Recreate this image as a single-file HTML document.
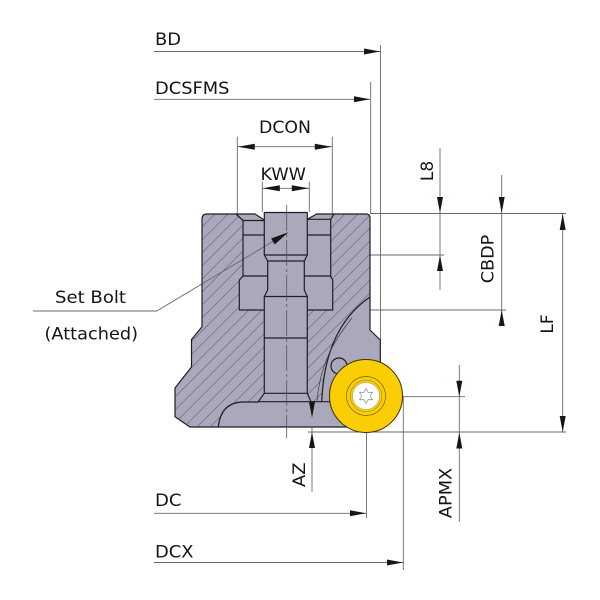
<!DOCTYPE html>
<html><head><meta charset="utf-8"><style>
html,body{margin:0;padding:0;background:#fff;}
svg{display:block;}
text{font-family:"DejaVu Sans","Liberation Sans",sans-serif;fill:#151515;}
</style></head><body>
<svg width="600" height="600" viewBox="0 0 600 600" xmlns="http://www.w3.org/2000/svg">
<defs>
<pattern id="h" patternUnits="userSpaceOnUse" width="13" height="13">
<path d="M0,13 L13,0 M-3,3 L3,-3 M10,16 L16,10" stroke="#5e5c70" stroke-width="0.6" fill="none"/>
</pattern>
</defs>
<rect width="600" height="600" fill="#fff"/>

<!-- dimension / extension lines -->
<g stroke="#6a6a6a" stroke-width="0.9" fill="none">
<line x1="154" y1="51.5" x2="380" y2="51.5"/>
<line x1="380.5" y1="45" x2="380.5" y2="340"/>
<line x1="154" y1="99.3" x2="370" y2="99.3"/>
<line x1="370.7" y1="82" x2="370.7" y2="214"/>
<line x1="237.3" y1="146.7" x2="332.3" y2="146.7"/>
<line x1="237.3" y1="136.7" x2="237.3" y2="214"/>
<line x1="332.3" y1="136.7" x2="332.3" y2="214"/>
<line x1="262.3" y1="188.3" x2="309.3" y2="188.3"/>
<line x1="262.3" y1="181.7" x2="262.3" y2="212"/>
<line x1="309.3" y1="181.7" x2="309.3" y2="212"/>
<line x1="440" y1="148" x2="440" y2="290"/>
<line x1="307" y1="255" x2="444" y2="255"/>
<line x1="501.7" y1="175" x2="501.7" y2="326"/>
<line x1="332.7" y1="310" x2="506" y2="310"/>
<line x1="370" y1="213.5" x2="566" y2="213.5"/>
<line x1="562.7" y1="213.5" x2="562.7" y2="432"/>
<line x1="308" y1="432" x2="566" y2="432"/>
<line x1="459.3" y1="365" x2="459.3" y2="521.7"/>
<line x1="403" y1="396.7" x2="465" y2="396.7"/>
<line x1="312" y1="390" x2="312" y2="491.7"/>
<line x1="309" y1="417.7" x2="338" y2="417.7"/>
<line x1="154" y1="513.3" x2="366" y2="513.3"/>
<line x1="366.5" y1="430" x2="366.5" y2="518"/>
<line x1="154" y1="562.5" x2="403" y2="562.5"/>
<line x1="403.3" y1="396" x2="403.3" y2="570"/>
</g>

<!-- body silhouette -->
<path d="M202,219 Q202,214 207,214 L255,214 L264.3,220 L264.3,212.5 L307.3,212.5 L307.3,219.3 L316.7,214 L366,214 Q370,214 370,218 L370,330 L380.3,340 L380.3,427 L190,427 L175,416.7 L175,388 L191.5,367 L191.5,339.5 L202,326.7 Z" fill="#aaa8ba" stroke="none"/>

<!-- hatched regions -->
<path d="M202,219 Q202,214 207,214 L236,214 L243,220.5 L243,276 L239.3,280 L239.3,310 L264.3,310 L264.3,393.3 L258,402 L242,402 C229,402.7 220,410 218.3,427 L190,427 L175,416.7 L175,388 L191.5,367 L191.5,339.5 L202,326.7 Z" fill="url(#h)"/>
<path d="M330.7,219.3 L334,214 L366,214 Q370,214 370,218 L370,297 C345,314 324,345 321.7,401.7 L311,401.7 L307.3,393.3 L307.3,310 L332.7,310 L332.7,280 L330.7,276.7 Z" fill="url(#h)"/>

<!-- leader -->
<polyline points="33,311 156.7,311 285,234.3" stroke="#6a6a6a" stroke-width="0.9" fill="none"/>

<!-- outlines -->
<g stroke="#1e1e24" stroke-width="1.2" fill="none" stroke-linejoin="round">
<path d="M202,326.7 L202,219 Q202,214 207,214 L255,214 L264.3,220 L264.3,212.5 L307.3,212.5 L307.3,219.3 L316.7,214 L366,214 Q370,214 370,218 L370,330 L380.3,340 L380.3,370"/>
<path d="M350,427 L190,427 L175,416.7 L175,388 L191.5,367 L191.5,339.5 L202,326.7"/>
<path d="M236,214 L243,220.5 L264.3,220.5"/>
<path d="M243,220.5 L243,276 L239.3,280 L239.3,310 L264.3,310"/>
<path d="M243,235 L264.3,235 M243,276 L267.7,276"/>
<path d="M264.3,220 L264.3,255 L267.7,261 L267.7,290 L264.3,296.5 L264.3,393.3 L258,402 L242,402 C229,402.7 220,410 218.3,427"/>
<path d="M307.3,219.3 L307.3,255 L304.3,261 L304.3,290 L307.3,296.5 L307.3,393.3 L311,401.7"/>
<path d="M264.3,255 L307.3,255 M267.7,261 L304.3,261 M264.3,296.5 L307.3,296.5 M264.3,338 L307.3,338 M264.3,393.3 L307.3,393.3 M258,401.7 L335,401.7"/>
<path d="M307.3,219.3 L330.7,219.3 L330.7,276.7 L332.7,280 L332.7,310 L307.3,310 M307.3,235 L330.7,235 M304.3,276 L330.7,276 M330.7,219.3 L334,214"/>
<path d="M370,297 C345,314 324,345 321.7,401.7"/>
<circle cx="339" cy="366" r="8" fill="#aaa8ba"/>
</g>
<path d="M352,318 C336,338 320,362 317,401.7" stroke="#3a3a44" stroke-width="0.7" fill="none"/>

<!-- center line -->
<line x1="286.7" y1="205" x2="286.7" y2="438" stroke="#555" stroke-width="0.8" stroke-dasharray="26 3 3 3"/>

<!-- insert -->
<circle cx="366" cy="396" r="36.5" fill="#fbcd05" stroke="#3a3000" stroke-width="1"/>
<circle cx="366" cy="396" r="19.5" fill="none" stroke="#6e6010" stroke-width="0.7"/>
<circle cx="366" cy="396" r="15.8" fill="none" stroke="#9a8a40" stroke-width="0.6"/>
<circle cx="366" cy="396" r="13.5" fill="#fff" stroke="#b0a270" stroke-width="0.6"/>
<polygon points="366,388.5 368.1,392.36 372.5,392.25 370.2,396 372.5,399.75 368.1,399.64 366,403.5 363.9,399.64 359.5,399.75 361.8,396 359.5,392.25 363.9,392.36" fill="#fff" stroke="#888" stroke-width="0.7" stroke-linejoin="round"/>

<!-- arrowheads -->
<g fill="#1a1414">
<polygon points="380,51.5 364,48.5 364,54.5"/>
<polygon points="370,99.3 354,96.3 354,102.3"/>
<polygon points="237.8,146.7 254.8,143.7 254.8,149.7"/>
<polygon points="331.8,146.7 314.8,143.7 314.8,149.7"/>
<polygon points="262.8,188.3 279.8,185.3 279.8,191.3"/>
<polygon points="308.8,188.3 291.8,185.3 291.8,191.3"/>
<polygon points="440,213 437,197 443,197"/>
<polygon points="440,255 437,271 443,271"/>
<polygon points="501.7,213 498.7,197 504.7,197"/>
<polygon points="501.7,310 498.7,326 504.7,326"/>
<polygon points="562.7,214 559.7,230 565.7,230"/>
<polygon points="562.7,432 559.7,416 565.7,416"/>
<polygon points="459.3,396.7 456.3,380.7 462.3,380.7"/>
<polygon points="459.3,432.5 456.3,448.5 462.3,448.5"/>
<polygon points="312,417.7 309,401.7 315,401.7"/>
<polygon points="312,432 309,448 315,448"/>
<polygon points="366,513.3 350,510.3 350,516.3"/>
<polygon points="403,562.5 387,559.5 387,565.5"/>
<polygon points="288.3,232.3 274.7,244.5 271.1,238.5"/>
</g>

<!-- labels -->
<g font-size="17">
<text x="155" y="45" textLength="26" lengthAdjust="spacingAndGlyphs">BD</text>
<text x="155" y="94" textLength="74.5" lengthAdjust="spacingAndGlyphs">DCSFMS</text>
<text x="259" y="133" textLength="52" lengthAdjust="spacingAndGlyphs">DCON</text>
<text x="260.5" y="180" textLength="45.5" lengthAdjust="spacingAndGlyphs">KWW</text>
<text x="55" y="303" textLength="71" lengthAdjust="spacingAndGlyphs">Set Bolt</text>
<text x="44.5" y="339.5" textLength="93.5" lengthAdjust="spacingAndGlyphs">(Attached)</text>
<text x="155" y="506" textLength="26.5" lengthAdjust="spacingAndGlyphs">DC</text>
<text x="155" y="557.5" textLength="38.5" lengthAdjust="spacingAndGlyphs">DCX</text>
<text transform="translate(433,171) rotate(-90)" text-anchor="middle">L8</text>
<text transform="translate(493.3,259) rotate(-90)" text-anchor="middle" textLength="48.5" lengthAdjust="spacingAndGlyphs">CBDP</text>
<text transform="translate(553,324) rotate(-90)" text-anchor="middle">LF</text>
<text transform="translate(451.7,493) rotate(-90)" text-anchor="middle" textLength="50.5" lengthAdjust="spacingAndGlyphs">APMX</text>
<text transform="translate(305,474.7) rotate(-90)" text-anchor="middle" textLength="24.5" lengthAdjust="spacingAndGlyphs">AZ</text>
</g>
</svg>
</body></html>
